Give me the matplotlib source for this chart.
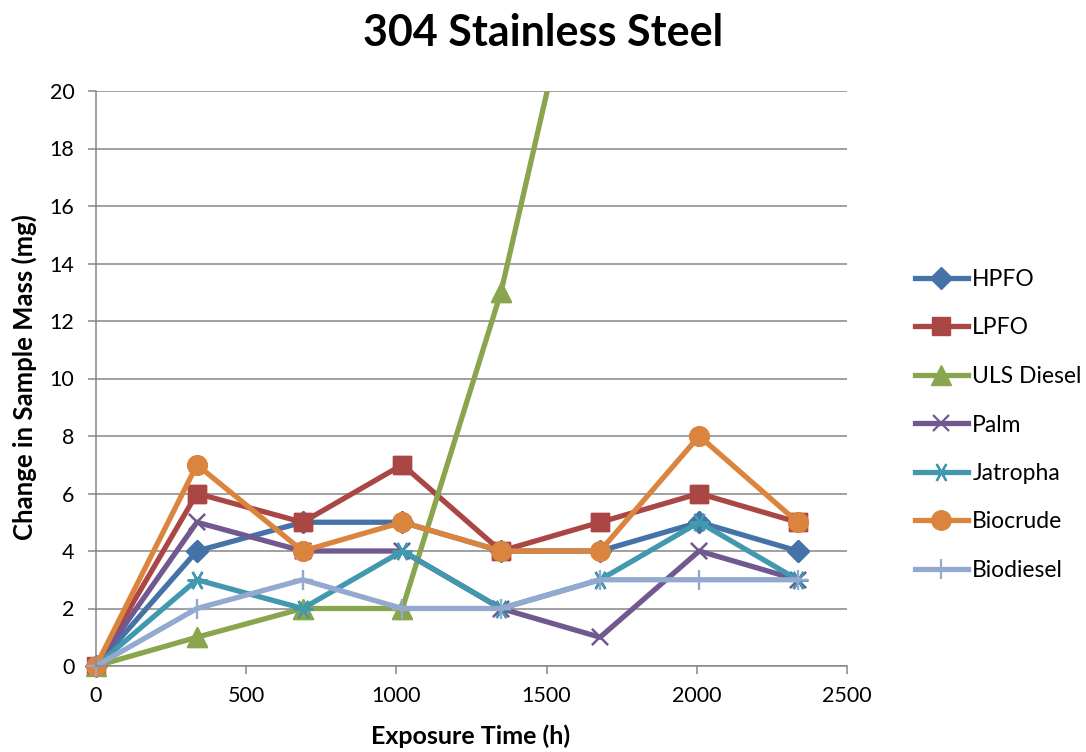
import matplotlib.pyplot as plt

hours = [0, 336, 688, 1020, 1348, 1678, 2008, 2336]

hpfo = [0, 4, 5, 5, 4, 4, 5, 4]
lpfo = [0, 6, 5, 7, 4, 5, 6, 5]
uls_diesel = [0, 1, 2, 2, 13, 28, 30, 32]
palm = [0, 5, 4, 4, 2, 1, 4, 3]
jatropha = [0, 3, 2, 4, 2, 3, 5, 3]
biocrude = [0, 7, 4, 5, 4, 4, 8, 5]
biodiesel = [0, 2, 3, 2, 2, 3, 3, 3]

series = [
    ('HPFO', hpfo, '#4572A7', 'D', 11),
    ('LPFO', lpfo, '#AA4643', 's', 13.5),
    ('ULS Diesel', uls_diesel, '#89A54E', '^', 14),
    ('Palm', palm, '#71588F', 'x', 11),
    ('Jatropha', jatropha, '#4198AF', (6, 2, 90), 14),
    ('Biocrude', biocrude, '#DB843D', 'o', 14),
    ('Biodiesel', biodiesel, '#93A9CF', '+', 15),
]

plt.rcParams['font.family'] = ['Lato', 'DejaVu Sans']

fig = plt.figure(figsize=(10.86, 7.52), dpi=100)
ax = fig.add_axes([96 / 1086, 86 / 752, 751 / 1086, 575 / 752])

for name, vals, col, mk, ms in series:
    mew = 1.6 if mk in ('x', '+', (6, 2, 90)) else 1.0
    ax.plot(hours, vals, color=col, lw=3.8, marker=mk, markersize=ms,
            markerfacecolor=col, markeredgecolor=col, markeredgewidth=mew,
            label=name)
    # markers sitting on the axis edge should not be cut in half
    xs = [h for h, v in zip(hours, vals) if v <= 20]
    ys = [v for v in vals if v <= 20]
    ax.plot(xs, ys, ls='none', marker=mk, markersize=ms, markerfacecolor=col,
            markeredgecolor=col, markeredgewidth=mew, clip_on=False)

ax.set_xlim(0, 2500)
ax.set_ylim(0, 20)
ax.set_xticks(range(0, 2501, 500))
ax.set_yticks(range(0, 21, 2))
ax.grid(axis='y', color='#868686', lw=1.1)
ax.set_axisbelow(True)
for s in ['top', 'right']:
    ax.spines[s].set_visible(False)
for s in ['left', 'bottom']:
    ax.spines[s].set_color('#868686')
    ax.spines[s].set_linewidth(1.1)
ax.tick_params(colors='#868686', labelcolor='black', labelsize=15.5, length=5.5, width=1.1)
ax.tick_params(axis='x', pad=9)
ax.tick_params(axis='y', pad=10)

fig.text(0.5, 1 - 46 / 752, '304 Stainless Steel', ha='center', va='baseline',
         fontsize=31, fontweight='bold')
fig.text(471 / 1086, 1 - 744 / 752, 'Exposure Time (h)', ha='center', va='baseline',
         fontsize=18, fontweight='bold')
fig.text(24 / 1086, 1 - 377 / 752, 'Change in Sample Mass (mg)', ha='center', va='center',
         rotation=90, fontsize=18.5, fontweight='bold')

ax.legend(loc='center left', bbox_to_anchor=(915 / 1086, 1 - 425 / 752),
          bbox_transform=fig.transFigure, frameon=False, borderpad=0, borderaxespad=0,
          fontsize=16.5, handlelength=2.3, labelspacing=1.2, handletextpad=0.2)

fig.savefig('out.png', dpi=100)
